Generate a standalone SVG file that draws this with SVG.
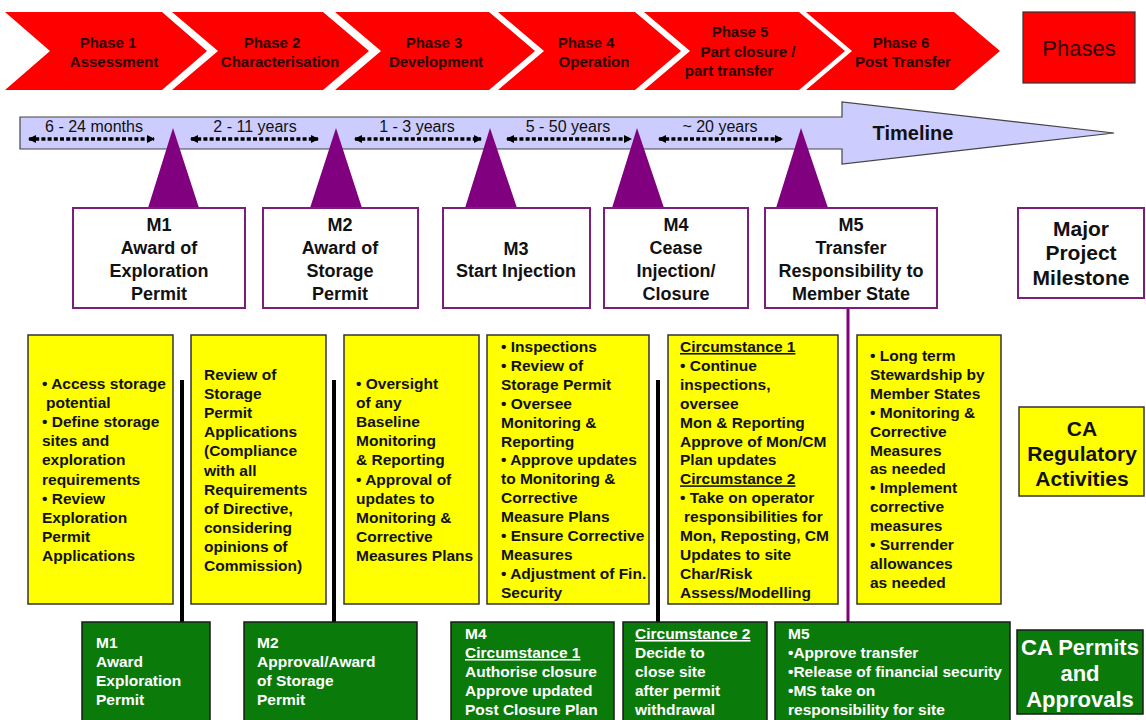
<svg xmlns="http://www.w3.org/2000/svg" width="1146" height="720" viewBox="0 0 1146 720">
<defs>
<style>
text{font-family:"Liberation Sans",Arial,sans-serif;}
.ph{font-size:15px;font-weight:bold;fill:#2a0000;text-anchor:middle;}
.chev{fill:#ff0000;}
.dur{font-size:16px;fill:#111;text-anchor:middle;}
.dl{stroke:#000;stroke-width:3.5;stroke-dasharray:4 2.2;fill:none;}
.tri{fill:#800080;}
.mbox{fill:#fff;stroke:#7b1f7b;stroke-width:2;}
.mt{font-size:18px;font-weight:bold;fill:#111;text-anchor:middle;}
.ybox{fill:#ffff00;stroke:#333;stroke-width:1.5;}
.yt{font-size:15.5px;font-weight:bold;fill:#111;}
.gbox{fill:#0a7a0a;stroke:#1a1a1a;stroke-width:1.5;}
.gt{font-size:15.5px;font-weight:bold;fill:#fff;}
.u{text-decoration:underline;}
.bl{stroke:#000;stroke-width:4;}
.pl{stroke:#800080;stroke-width:3;}
</style>
<marker id="ah" viewBox="0 0 8 8" refX="7" refY="4" markerWidth="8" markerHeight="8" markerUnits="userSpaceOnUse" orient="auto-start-reverse">
<path d="M0,0 L8,4 L0,8 z" fill="#000"/>
</marker>
</defs>
<rect width="1146" height="720" fill="#fff"/>

<g id="phases">
<g id="phase1"><polygon class="chev" points="5,12 162,12 207,51 162,90 5,90 50,51"/>
<text class="ph" x="108" y="48">Phase 1</text><text class="ph" x="114" y="67">Assessment</text></g>
<g id="phase2"><polygon class="chev" points="172,12 323,12 369,51 323,90 172,90 218,51"/>
<text class="ph" x="272" y="48">Phase 2</text><text class="ph" x="280" y="67">Characterisation</text></g>
<g id="phase3"><polygon class="chev" points="335,12 489,12 535,51 489,90 335,90 381,51"/>
<text class="ph" x="434" y="48">Phase 3</text><text class="ph" x="436" y="67">Development</text></g>
<g id="phase4"><polygon class="chev" points="498,12 635,12 681,51 635,90 498,90 544,51"/>
<text class="ph" x="586" y="48">Phase 4</text><text class="ph" x="594" y="67">Operation</text></g>
<g id="phase5"><polygon class="chev" points="644,12 799,12 845,51 799,90 644,90 690,51"/>
<text class="ph" x="740" y="37">Phase 5</text><text class="ph" x="748" y="57">Part closure /</text><text class="ph" x="729" y="76">part transfer</text></g>
<g id="phase6"><polygon class="chev" points="806,12 954,12 1000,51 954,90 806,90 852,51"/>
<text class="ph" x="901" y="48">Phase 6</text><text class="ph" x="903" y="67">Post Transfer</text></g>
<g id="phases-label"><rect x="1023" y="12" width="112" height="71" fill="#ff0000" stroke="#333" stroke-width="1.2"/>
<text x="1079" y="56" font-size="22" fill="#2a0000" text-anchor="middle">Phases</text></g>
</g>

<g id="timeline">
<polygon points="20,117 842,117 842,102 1114,133 842,164 842,149 20,149" fill="#ccccff" stroke="#444" stroke-width="1.2"/>
<text x="913" y="140" font-size="20" font-weight="bold" fill="#111" text-anchor="middle">Timeline</text>
<text class="dur" x="94" y="132">6 - 24 months</text>
<text class="dur" x="255" y="132">2 - 11 years</text>
<text class="dur" x="417" y="132">1 - 3 years</text>
<text class="dur" x="568" y="132">5 - 50 years</text>
<text class="dur" x="720" y="132">~ 20 years</text>
<line class="dl" x1="29" y1="139" x2="154" y2="139" marker-start="url(#ah)" marker-end="url(#ah)"/>
<line class="dl" x1="191" y1="139" x2="318" y2="139" marker-start="url(#ah)" marker-end="url(#ah)"/>
<line class="dl" x1="355" y1="139" x2="481" y2="139" marker-start="url(#ah)" marker-end="url(#ah)"/>
<line class="dl" x1="507" y1="139" x2="631" y2="139" marker-start="url(#ah)" marker-end="url(#ah)"/>
<line class="dl" x1="659" y1="139" x2="782" y2="139" marker-start="url(#ah)" marker-end="url(#ah)"/>
</g>

<g id="connectors">
<line class="bl" x1="182" y1="380" x2="182" y2="622"/>
<line class="bl" x1="334" y1="380" x2="334" y2="622"/>
<line class="bl" x1="658" y1="380" x2="658" y2="622"/>
<line class="pl" x1="848" y1="308" x2="848" y2="622"/>
</g>

<g id="m1">
<polygon class="tri" points="173,128 148,208 199,208"/>
<rect class="mbox" x="73" y="208" width="172" height="100"/>
<text class="mt" x="159" y="231">M1</text><text class="mt" x="159" y="254">Award of</text><text class="mt" x="159" y="277">Exploration</text><text class="mt" x="159" y="300">Permit</text>
</g>
<g id="m2">
<polygon class="tri" points="336,128 310,208 362,208"/>
<rect class="mbox" x="263" y="208" width="155" height="100"/>
<text class="mt" x="340" y="231">M2</text><text class="mt" x="340" y="254">Award of</text><text class="mt" x="340" y="277">Storage</text><text class="mt" x="340" y="300">Permit</text>
</g>
<g id="m3">
<polygon class="tri" points="490,128 465,208 517,208"/>
<rect class="mbox" x="443" y="208" width="147" height="100"/>
<text class="mt" x="516" y="255">M3</text><text class="mt" x="516" y="277">Start Injection</text>
</g>
<g id="m4">
<polygon class="tri" points="637,128 612,208 664,208"/>
<rect class="mbox" x="604" y="208" width="144" height="100"/>
<text class="mt" x="676" y="231">M4</text><text class="mt" x="676" y="254">Cease</text><text class="mt" x="676" y="277">Injection/</text><text class="mt" x="676" y="300">Closure</text>
</g>
<g id="m5">
<polygon class="tri" points="801,128 776,208 828,208"/>
<rect class="mbox" x="765" y="208" width="172" height="100"/>
<text class="mt" x="851" y="231">M5</text><text class="mt" x="851" y="254">Transfer</text><text class="mt" x="851" y="277">Responsibility to</text><text class="mt" x="851" y="300">Member State</text>
</g>
<g id="milestone-label">
<rect class="mbox" x="1018" y="208" width="126" height="90"/>
<text x="1081" y="236" font-size="21" font-weight="bold" fill="#111" text-anchor="middle">Major</text>
<text x="1081" y="260" font-size="21" font-weight="bold" fill="#111" text-anchor="middle">Project</text>
<text x="1081" y="285" font-size="21" font-weight="bold" fill="#111" text-anchor="middle">Milestone</text>
</g>

<g id="ca1">
<rect class="ybox" x="28" y="335" width="145" height="269"/>
<text class="yt"><tspan x="42" y="389">• Access storage</tspan><tspan x="46" dy="19.1">potential</tspan><tspan x="42" dy="19.1">• Define storage</tspan><tspan x="42" dy="19.1">sites and</tspan><tspan x="42" dy="19.1">exploration</tspan><tspan x="42" dy="19.1">requirements</tspan><tspan x="42" dy="19.1">• Review</tspan><tspan x="42" dy="19.1">Exploration</tspan><tspan x="42" dy="19.1">Permit</tspan><tspan x="42" dy="19.1">Applications</tspan></text>
</g>
<g id="ca2">
<rect class="ybox" x="191" y="335" width="135" height="269"/>
<text class="yt"><tspan x="204" y="380">Review of</tspan><tspan x="204" dy="19.1">Storage</tspan><tspan x="204" dy="19.1">Permit</tspan><tspan x="204" dy="19.1">Applications</tspan><tspan x="204" dy="19.1">(Compliance</tspan><tspan x="204" dy="19.1">with all</tspan><tspan x="204" dy="19.1">Requirements</tspan><tspan x="204" dy="19.1">of Directive,</tspan><tspan x="204" dy="19.1">considering</tspan><tspan x="204" dy="19.1">opinions of</tspan><tspan x="204" dy="19.1">Commission)</tspan></text>
</g>
<g id="ca3">
<rect class="ybox" x="344" y="335" width="135" height="269"/>
<text class="yt"><tspan x="356" y="389">• Oversight</tspan><tspan x="356" dy="19.1">of any</tspan><tspan x="356" dy="19.1">Baseline</tspan><tspan x="356" dy="19.1">Monitoring</tspan><tspan x="356" dy="19.1">&amp; Reporting</tspan><tspan x="356" dy="19.1">• Approval of</tspan><tspan x="356" dy="19.1">updates to</tspan><tspan x="356" dy="19.1">Monitoring &amp;</tspan><tspan x="356" dy="19.1">Corrective</tspan><tspan x="356" dy="19.1">Measures Plans</tspan></text>
</g>
<g id="ca4">
<rect class="ybox" x="487" y="335" width="162" height="269"/>
<text class="yt"><tspan x="501" y="352">• Inspections</tspan><tspan x="501" dy="18.9">• Review of</tspan><tspan x="501" dy="18.9">Storage Permit</tspan><tspan x="501" dy="18.9">• Oversee</tspan><tspan x="501" dy="18.9">Monitoring &amp;</tspan><tspan x="501" dy="18.9">Reporting</tspan><tspan x="501" dy="18.9">• Approve updates</tspan><tspan x="501" dy="18.9">to Monitoring &amp;</tspan><tspan x="501" dy="18.9">Corrective</tspan><tspan x="501" dy="18.9">Measure Plans</tspan><tspan x="501" dy="18.9">• Ensure Corrective</tspan><tspan x="501" dy="18.9">Measures</tspan><tspan x="501" dy="18.9">• Adjustment of Fin.</tspan><tspan x="501" dy="18.9">Security</tspan></text>
</g>
<g id="ca5">
<rect class="ybox" x="668" y="335" width="170" height="269"/>
<text class="yt"><tspan x="680" y="352" class="u">Circumstance 1</tspan><tspan x="680" dy="18.9">• Continue</tspan><tspan x="680" dy="18.9">inspections,</tspan><tspan x="680" dy="18.9">oversee</tspan><tspan x="680" dy="18.9">Mon &amp; Reporting</tspan><tspan x="680" dy="18.9">Approve of Mon/CM</tspan><tspan x="680" dy="18.9">Plan updates</tspan><tspan x="680" dy="18.9" class="u">Circumstance 2</tspan><tspan x="680" dy="18.9">• Take on operator</tspan><tspan x="684" dy="18.9">responsibilities for</tspan><tspan x="680" dy="18.9">Mon, Reposting, CM</tspan><tspan x="680" dy="18.9">Updates to site</tspan><tspan x="680" dy="18.9">Char/Risk</tspan><tspan x="680" dy="18.9">Assess/Modelling</tspan></text>
</g>
<g id="ca6">
<rect class="ybox" x="857" y="335" width="144" height="269"/>
<text class="yt"><tspan x="870" y="361">• Long term</tspan><tspan x="870" dy="18.9">Stewardship by</tspan><tspan x="870" dy="18.9">Member States</tspan><tspan x="870" dy="18.9">• Monitoring &amp;</tspan><tspan x="870" dy="18.9">Corrective</tspan><tspan x="870" dy="18.9">Measures</tspan><tspan x="870" dy="18.9">as needed</tspan><tspan x="870" dy="18.9">• Implement</tspan><tspan x="870" dy="18.9">corrective</tspan><tspan x="870" dy="18.9">measures</tspan><tspan x="870" dy="18.9">• Surrender</tspan><tspan x="870" dy="18.9">allowances</tspan><tspan x="870" dy="18.9">as needed</tspan></text>
</g>
<g id="ca-label">
<rect class="ybox" x="1019" y="407" width="125" height="89"/>
<text x="1082" y="436" font-size="21" font-weight="bold" fill="#111" text-anchor="middle">CA</text>
<text x="1082" y="461" font-size="21" font-weight="bold" fill="#111" text-anchor="middle">Regulatory</text>
<text x="1082" y="486" font-size="21" font-weight="bold" fill="#111" text-anchor="middle">Activities</text>
</g>

<g id="g1">
<rect class="gbox" x="82" y="622" width="128" height="100"/>
<text class="gt"><tspan x="96" y="648">M1</tspan><tspan x="96" dy="19">Award</tspan><tspan x="96" dy="19">Exploration</tspan><tspan x="96" dy="19">Permit</tspan></text>
</g>
<g id="g2">
<rect class="gbox" x="244" y="622" width="173" height="100"/>
<text class="gt"><tspan x="257" y="648">M2</tspan><tspan x="257" dy="19">Approval/Award</tspan><tspan x="257" dy="19">of Storage</tspan><tspan x="257" dy="19">Permit</tspan></text>
</g>
<g id="g4">
<rect class="gbox" x="451" y="622" width="163" height="100"/>
<text class="gt"><tspan x="465" y="639">M4</tspan><tspan x="465" dy="19" class="u">Circumstance 1</tspan><tspan x="465" dy="19">Authorise closure</tspan><tspan x="465" dy="19">Approve updated</tspan><tspan x="465" dy="19">Post Closure Plan</tspan></text>
</g>
<g id="gc2">
<rect class="gbox" x="623" y="622" width="144" height="100"/>
<text class="gt"><tspan x="635" y="639" class="u">Circumstance 2</tspan><tspan x="635" dy="19">Decide to</tspan><tspan x="635" dy="19">close site</tspan><tspan x="635" dy="19">after permit</tspan><tspan x="635" dy="19">withdrawal</tspan></text>
</g>
<g id="g5">
<rect class="gbox" x="775" y="622" width="235" height="100"/>
<text class="gt"><tspan x="788" y="639">M5</tspan><tspan x="788" dy="19">•Approve transfer</tspan><tspan x="788" dy="19">•Release of financial security</tspan><tspan x="788" dy="19">•MS take on</tspan><tspan x="788" dy="19">responsibility for site</tspan></text>
</g>
<g id="permits-label">
<rect class="gbox" x="1017" y="630" width="126" height="84"/>
<text x="1080" y="655" font-size="22" font-weight="bold" fill="#fff" text-anchor="middle">CA Permits</text>
<text x="1080" y="681" font-size="22" font-weight="bold" fill="#fff" text-anchor="middle">and</text>
<text x="1080" y="707" font-size="22" font-weight="bold" fill="#fff" text-anchor="middle">Approvals</text>
</g>
</svg>
